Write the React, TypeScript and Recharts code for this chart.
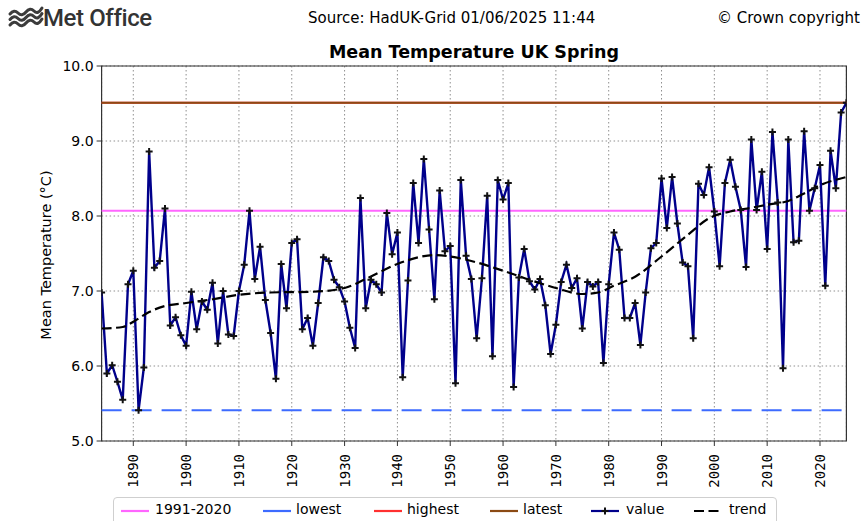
import React from 'react';
import {
  ComposedChart,
  Line,
  XAxis,
  YAxis,
  CartesianGrid,
  ReferenceLine,
  ReferenceArea,
} from 'recharts';

// spring (MAM) mean temperature, UK, from 1884
const firstYear = 1884;
const springMean = [
  6.98, 5.90, 6.01, 5.79, 5.55, 7.09, 7.27, 5.41, 5.98, 8.86, // 1884-1893
  7.31, 7.40, 8.10, 6.54, 6.65, 6.41, 6.27, 6.99, 6.49, 6.86, // 1894-1903
  6.75, 7.11, 6.30, 7.00, 6.42, 6.40, 7.00, 7.35, 8.07, 7.16, // 1904-1913
  7.59, 6.88, 6.44, 5.83, 7.36, 6.77, 7.64, 7.69, 6.49, 6.64, // 1914-1923
  6.27, 6.84, 7.45, 7.40, 7.15, 7.05, 6.86, 6.51, 6.24, 8.24, // 1924-1933
  6.77, 7.15, 7.09, 6.98, 8.04, 7.49, 7.78, 5.85, 7.14, 8.44, // 1934-1943
  7.64, 8.76, 7.82, 6.89, 8.34, 7.53, 7.60, 5.77, 8.48, 7.47, // 1944-1953
  7.16, 6.37, 7.17, 8.27, 6.13, 8.48, 8.22, 8.44, 5.72, 7.18, // 1954-1963
  7.56, 7.13, 7.02, 7.16, 6.81, 6.16, 6.55, 7.12, 7.35, 7.04, // 1964-1973
  7.17, 6.50, 7.12, 7.06, 7.12, 6.04, 7.09, 7.78, 7.55, 6.64, // 1974-1983
  6.64, 6.84, 6.28, 6.98, 7.57, 7.64, 8.50, 7.84, 8.52, 7.90, // 1984-1993
  7.38, 7.33, 6.37, 8.43, 8.28, 8.65, 8.06, 7.33, 8.44, 8.75, // 1994-2003
  8.39, 8.08, 7.32, 9.02, 8.08, 8.59, 7.56, 9.12, 8.18, 5.97, // 2004-2013
  9.02, 7.65, 7.67, 9.13, 8.07, 8.37, 8.68, 7.07, 8.87, 8.37, // 2014-2023
  9.38, 9.51, // 2024-2025
];

// smoothed trend
const trendYears = [1884, 1888, 1890, 1893, 1896, 1900, 1905, 1910, 1916, 1924, 1930, 1934, 1940, 1944, 1947, 1950, 1954, 1960, 1965, 1970, 1975, 1978, 1981, 1985, 1990, 1995, 1999, 2003, 2007, 2010, 2014, 2017, 2020, 2025];
const trendValues = [6.50, 6.52, 6.59, 6.72, 6.80, 6.84, 6.89, 6.95, 6.98, 6.99, 7.04, 7.16, 7.36, 7.45, 7.48, 7.46, 7.40, 7.27, 7.15, 7.04, 6.96, 6.98, 7.07, 7.19, 7.46, 7.75, 7.97, 8.06, 8.11, 8.15, 8.20, 8.30, 8.41, 8.52];

const avg1991to2020 = 8.07;
const lowest = 5.41;
const highest = 9.51;
const latest = 9.51;

const xTicks = [1890, 1900, 1910, 1920, 1930, 1940, 1950, 1960, 1970, 1980, 1990, 2000, 2010, 2020];
const yTicks = [5, 6, 7, 8, 9, 10];

const valueData = springMean.map((v, i) => ({ year: firstYear + i, value: v }));
const trendData = trendYears.map((y, i) => ({ year: y, trend: trendValues[i] }));

const FONT = '"DejaVu Sans", sans-serif';

const plusPath = (cx: number, cy: number) =>
  `M${cx - 3.5},${cy - 1} h2.5 v-2.5 h2 v2.5 h2.5 v2 h-2.5 v2.5 h-2 v-2.5 h-2.5 z`;

const ValueDot = (props: any) => {
  const { cx, cy, index } = props;
  if (cx == null || cy == null) return <g key={`n-${index}`} />;
  return <path key={`d-${index}`} d={plusPath(cx, cy)} fill="#111" />;
};

const XTick = (props: any) => {
  const { x, y, payload } = props;
  return (
    <text
      x={x}
      y={y}
      transform={`rotate(-90 ${x} ${y})`}
      textAnchor="end"
      dominantBaseline="central"
      fontFamily='"DejaVu Sans Mono", monospace'
      fontSize={14}
      fill="#000"
    >
      {payload.value}
    </text>
  );
};

const legendItems = [
  { label: '1991-2020', color: '#ff66ff', hx: 120, tx: 155 },
  { label: 'lowest', color: '#3d6bff', hx: 262, tx: 296 },
  { label: 'highest', color: '#ff3030', hx: 373, tx: 407 },
  { label: 'latest', color: '#8b4a14', hx: 489, tx: 523 },
  { label: 'value', color: '#00008b', hx: 590, tx: 626, marker: true },
  { label: 'trend', color: '#000', hx: 693, tx: 729, dashed: true },
];

const App = () => {
  return (
    <div style={{ position: 'absolute', left: 0, top: 0, width: 862, height: 521, background: '#fff', overflow: 'hidden', fontFamily: FONT }}>
      {/* header */}
      <svg width={40} height={30} style={{ position: 'absolute', left: 6, top: 4 }}>
        {[0, 5.5, 11].map((o) => (
          <path
            key={o}
            d={`M4 ${10 + o} q4 -5 8 -1 t8 -1 t8 -1 t8 -3`}
            fill="none"
            stroke="#3c3c3c"
            strokeWidth={3}
            strokeLinecap="round"
          />
        ))}
      </svg>
      <div style={{ position: 'absolute', left: 43, top: 4, fontFamily: 'Roboto, sans-serif', fontWeight: 500, fontSize: 24, color: '#333', letterSpacing: -0.4 }}>
        Met Office
      </div>
      <div style={{ position: 'absolute', left: 308, top: 9, fontSize: 15, color: '#000', whiteSpace: 'nowrap' }}>
        Source: HadUK-Grid 01/06/2025 11:44
      </div>
      <div style={{ position: 'absolute', left: 717, top: 9, fontSize: 15, color: '#000', whiteSpace: 'nowrap' }}>
        © Crown copyright
      </div>

      <ComposedChart
        width={862}
        height={521}
        margin={{ top: 66, right: 15.6, bottom: 25, left: 41.6 }}
        style={{ position: 'absolute', left: 0, top: 0 }}
      >
        <CartesianGrid stroke="#8f8f8f" strokeDasharray="1.5 2.5" strokeWidth={1} />
        <XAxis
          type="number"
          dataKey="year"
          domain={[1884, 2025]}
          ticks={xTicks}
          allowDataOverflow
          height={55}
          tick={<XTick />}
          tickSize={5}
          tickMargin={8}
          axisLine={false}
          tickLine={{ stroke: '#333' }}
        />
        <YAxis
          type="number"
          domain={[5, 10]}
          ticks={yTicks}
          width={60}
          tickFormatter={(v: number) => v.toFixed(1)}
          tick={{ fontFamily: FONT, fontSize: 14, fill: '#000' }}
          tickSize={5}
          tickMargin={3}
          axisLine={false}
          tickLine={{ stroke: '#333' }}
        />
        <ReferenceLine y={avg1991to2020} stroke="#ff66ff" strokeWidth={2} />
        <ReferenceLine y={lowest} stroke="#3d6bff" strokeWidth={2} strokeDasharray="20 10" />
        <ReferenceLine y={highest} stroke="#ff3030" strokeWidth={2} />
        <ReferenceLine y={latest} stroke="#8b4a14" strokeWidth={2} />
        <Line
          data={valueData}
          dataKey="value"
          type="linear"
          stroke="#00008b"
          strokeWidth={2.4}
          dot={ValueDot}
          activeDot={false}
          isAnimationActive={false}
        />
        <Line
          data={trendData}
          dataKey="trend"
          type="monotone"
          stroke="#000"
          strokeWidth={2.2}
          strokeDasharray="10 4.5"
          dot={false}
          activeDot={false}
          isAnimationActive={false}
        />
        <ReferenceArea x1={1884} x2={2025} y1={5} y2={10} fill="none" stroke="#333" strokeWidth={1.2} />
      </ComposedChart>

      {/* title and y label */}
      <svg width={862} height={521} style={{ position: 'absolute', left: 0, top: 0, pointerEvents: 'none' }}>
        <text x={474} y={58} textAnchor="middle" fontFamily={FONT} fontWeight="bold" fontSize={17.5} fill="#000">
          Mean Temperature UK Spring
        </text>
        <text
          transform="translate(46,255) rotate(-90)"
          textAnchor="middle"
          dominantBaseline="central"
          fontFamily={FONT}
          fontSize={14.5}
          fill="#000"
        >
          Mean Temperature (°C)
        </text>
      </svg>

      {/* legend */}
      <div style={{ position: 'absolute', left: 113, top: 497, width: 662, height: 34, border: '1px solid #cfcfcf', borderRadius: 4, background: '#fff' }} />
      {legendItems.map((it) => (
        <React.Fragment key={it.label}>
          <svg width={30} height={12} style={{ position: 'absolute', left: it.hx, top: 505 }}>
            <line
              x1={1}
              y1={6}
              x2={29}
              y2={6}
              stroke={it.color}
              strokeWidth={2.2}
              strokeDasharray={it.dashed ? '10 4.5' : undefined}
            />
            {it.marker && <path d={plusPath(15, 6)} fill="#111" />}
          </svg>
          <div style={{ position: 'absolute', left: it.tx, top: 501, fontSize: 14, color: '#000', whiteSpace: 'nowrap' }}>
            {it.label}
          </div>
        </React.Fragment>
      ))}
    </div>
  );
};

export default App;
